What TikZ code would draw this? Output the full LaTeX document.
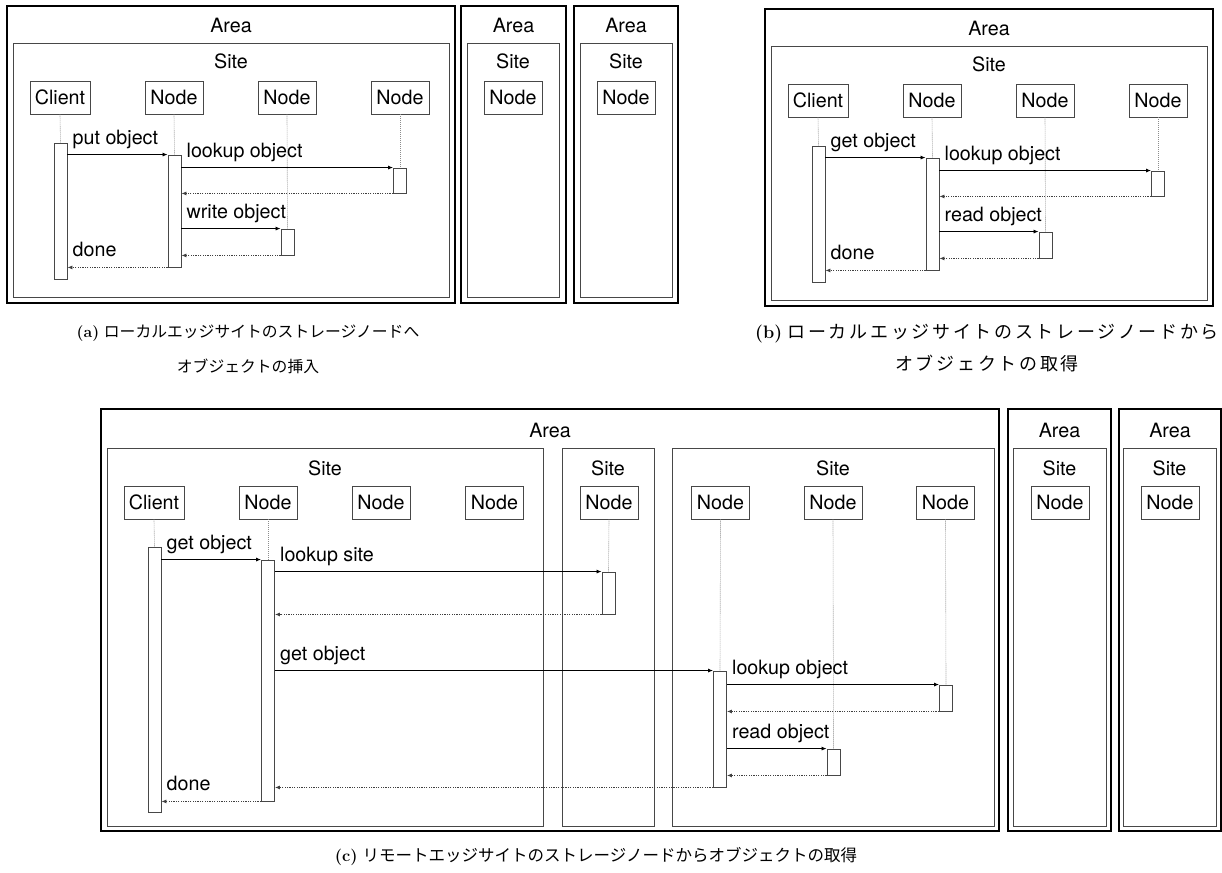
\documentclass[tikz,border=0pt]{standalone}
\usepackage{fontspec}
\usetikzlibrary{arrows.meta}
\newfontfamily\heros{TeX Gyre Heros}
\newfontfamily\cjkfont{Noto Sans CJK JP}
\newfontfamily\cjkwide[LetterSpace=15]{Noto Sans CJK JP}
\newcommand{\dfont}{\heros\fontsize{19.7pt}{22pt}\selectfont}
\tikzset{
  areabox/.style={draw=black, line width=1.3pt},
  sitebox/.style={draw=black!72, line width=0.9pt},
  actor/.style={draw=black!72, line width=0.9pt, minimum height=33pt, minimum width=58pt, inner sep=0pt, font=\dfont, text=black},
  bar/.style={draw=black!72, line width=0.9pt, fill=white, minimum width=13pt, inner sep=0pt},
  life/.style={draw=black!45, line width=0.6pt, dash pattern=on 1pt off 1pt},
  msg/.style={draw=black, line width=0.8pt, -{Latex[length=5pt,width=4pt]}},
  ret/.style={draw=black!75, line width=0.8pt, dash pattern=on 1.2pt off 1.2pt, -{Latex[length=5pt,width=4pt]}},
  lbl/.style={anchor=base west, inner sep=0pt, font=\dfont},
  ttl/.style={anchor=base, inner sep=0pt, font=\dfont},
  captext/.style={anchor=base, inner sep=0pt},
}
% local sequence diagram: #1 prefix, #2 dx, #3 dy, #4 first message, #5 storage op
\newcommand{\localdiag}[5]{%
\begin{scope}[shift={(#2,#3)}]
  \draw[areabox] (7,6) rectangle (455,303);
  \draw[sitebox] (13,43) rectangle (449,297);
  \node[ttl] (#1-areat) at (231,33) {Area};
  \node[ttl] (#1-sitet) at (231,69) {Site};
  \node[actor, minimum width=60pt] (#1-c) at (60,97.5) {Client};
  \node[actor] (#1-n1) at (174,97.5) {Node};
  \node[actor] (#1-n2) at (287,97.5) {Node};
  \node[actor] (#1-n3) at (400,97.5) {Node};
  \node[bar, minimum height=136pt] (#1-bc) at (60.5,211) {};
  \node[bar, minimum height=112pt] (#1-b1) at (174.5,211) {};
  \node[bar, minimum height=25pt] (#1-b3) at (400,180.5) {};
  \node[bar, minimum height=26pt] (#1-b2) at (287.5,242) {};
  \draw[life] (#1-c.south) -- (#1-bc.north);
  \draw[life] (#1-n1.south) -- (#1-b1.north);
  \draw[life] (#1-n2.south) -- (#1-b2.north);
  \draw[life] (#1-n3.south) -- (#1-b3.north);
  \draw[msg] (#1-bc.east |- #1-b1.north) -- (#1-b1.north west);
  \draw[msg] (#1-b1.east |- #1-b3.north) -- (#1-b3.north west);
  \draw[ret] (#1-b3.south west) -- (#1-b3.south west -| #1-b1.east);
  \draw[msg] (#1-b1.east |- #1-b2.north) -- (#1-b2.north west);
  \draw[ret] (#1-b2.south west) -- (#1-b2.south west -| #1-b1.east);
  \draw[ret] (#1-b1.south west) -- (#1-b1.south west -| #1-bc.east);
  \node[lbl] (#1-l1) at ([xshift=5pt,yshift=10pt]#1-bc.east |- #1-b1.north) {#4};
  \node[lbl] (#1-l2) at ([xshift=5pt,yshift=10pt]#1-b1.east |- #1-b3.north) {lookup object};
  \node[lbl] (#1-l3) at ([xshift=5pt,yshift=10pt]#1-b1.east |- #1-b2.north) {#5};
  \node[lbl] (#1-l4) at ([xshift=5pt,yshift=11pt]#1-b1.south west -| #1-bc.east) {done};
\end{scope}}
\begin{document}
\begin{tikzpicture}[x=1pt,y=-1pt]
\useasboundingbox (0,0) rectangle (1222,872);
% ---------- (a) ----------
\localdiag{a}{0}{0}{put object}{write object}
\draw[areabox] (461,6) rectangle (566,303);
\draw[sitebox] (467,43) rectangle (559,297);
\node[ttl] (a2-areat) at (513.5,33) {Area};
\node[ttl] (a2-sitet) at (513,69) {Site};
\node[actor] (a2-n) at (513,97.5) {Node};
\draw[areabox] (574,6) rectangle (678,303);
\draw[sitebox] (580,43) rectangle (672,297);
\node[ttl] (a3-areat) at (626,33) {Area};
\node[ttl] (a3-sitet) at (626,69) {Site};
\node[actor] (a3-n) at (626,97.5) {Node};
\node[captext] (capa1) at (248,337) {\fontsize{15.8pt}{18pt}\selectfont\textbf{(a)} \cjkfont ローカルエッジサイトのストレージノードへ};
\node[captext] (capa2) at (248,372) {\fontsize{15.8pt}{18pt}\selectfont\cjkfont オブジェクトの挿入};
% ---------- (b) ----------
\localdiag{b}{758}{3}{get object}{read object}
\node[captext] (capb1) at (987,338) {\fontsize{18pt}{21pt}\selectfont\textbf{(b)} \cjkwide ローカルエッジサイトのストレージノードから};
\node[captext] (capb2) at (987,370) {\fontsize{18pt}{21pt}\selectfont\cjkwide オブジェクトの取得};
% ---------- (c) ----------
\draw[areabox] (101,409) rectangle (999,831);
\draw[sitebox] (107,448) rectangle (543,826);
\draw[sitebox] (562,448) rectangle (654,826);
\draw[sitebox] (672,448) rectangle (994,826);
\node[ttl] (c-areat) at (550,437) {Area};
\node[ttl] (c-s1t) at (325,475) {Site};
\node[ttl] (c-s2t) at (608,475) {Site};
\node[ttl] (c-s3t) at (833,475) {Site};
\node[actor, minimum width=60pt] (c-c) at (154,502.5) {Client};
\node[actor] (c-n1) at (268,502.5) {Node};
\node[actor] (c-n2) at (381,502.5) {Node};
\node[actor] (c-n3) at (494.5,502.5) {Node};
\node[actor] (c-s2n) at (609,502.5) {Node};
\node[actor] (c-s3n1) at (720.5,502.5) {Node};
\node[actor] (c-s3n2) at (833,502.5) {Node};
\node[actor] (c-s3n3) at (945.5,502.5) {Node};
\draw[areabox] (1008,409) rectangle (1111,831);
\draw[sitebox] (1013,448) rectangle (1106,826);
\node[ttl] (c2-areat) at (1059.5,437) {Area};
\node[ttl] (c2-sitet) at (1059.5,475) {Site};
\node[actor] (c2-n) at (1060,502.5) {Node};
\draw[areabox] (1119,409) rectangle (1221,831);
\draw[sitebox] (1123,448) rectangle (1216,826);
\node[ttl] (c3-areat) at (1170,437) {Area};
\node[ttl] (c3-sitet) at (1169.5,475) {Site};
\node[actor] (c3-n) at (1170,502.5) {Node};
% bars
\node[bar, minimum height=265pt] (c-bc) at (154.5,679.5) {};
\node[bar, minimum height=241pt] (c-b1) at (268,680.5) {};
\node[bar, minimum height=42pt] (c-bs2) at (608.5,593) {};
\node[bar, minimum height=116pt] (c-bs31) at (720,729) {};
\node[bar, minimum height=26pt] (c-bs33) at (946,698) {};
\node[bar, minimum height=26pt] (c-bs32) at (833.5,762) {};
% lifelines
\draw[life] (c-c.south) -- (c-bc.north);
\draw[life] (c-n1.south) -- (c-b1.north);
\draw[life] (c-s2n.south) -- (c-bs2.north);
\draw[life] (c-s3n1.south) -- (c-bs31.north);
\draw[life] (c-s3n2.south) -- (c-bs32.north);
\draw[life] (c-s3n3.south) -- (c-bs33.north);
% messages
\draw[msg] (c-bc.east |- c-b1.north) -- (c-b1.north west);
\draw[msg] (c-b1.east |- c-bs2.north) -- (c-bs2.north west);
\draw[ret] (c-bs2.south west) -- (c-bs2.south west -| c-b1.east);
\draw[msg] (c-b1.east |- c-bs31.north) -- (c-bs31.north west);
\draw[msg] (c-bs31.east |- c-bs33.north) -- (c-bs33.north west);
\draw[ret] (c-bs33.south west) -- (c-bs33.south west -| c-bs31.east);
\draw[msg] (c-bs31.east |- c-bs32.north) -- (c-bs32.north west);
\draw[ret] (c-bs32.south west) -- (c-bs32.south west -| c-bs31.east);
\draw[ret] (c-bs31.south west) -- (c-bs31.south west -| c-b1.east);
\draw[ret] (c-b1.south west) -- (c-b1.south west -| c-bc.east);
\node[lbl] (c-l1) at ([xshift=5pt,yshift=10pt]c-bc.east |- c-b1.north) {get object};
\node[lbl] (c-l2) at ([xshift=5pt,yshift=10pt]c-b1.east |- c-bs2.north) {lookup site};
\node[lbl] (c-l3) at ([xshift=5pt,yshift=10pt]c-b1.east |- c-bs31.north) {get object};
\node[lbl] (c-l4) at ([xshift=5pt,yshift=10pt]c-bs31.east |- c-bs33.north) {lookup object};
\node[lbl] (c-l5) at ([xshift=5pt,yshift=10pt]c-bs31.east |- c-bs32.north) {read object};
\node[lbl] (c-l6) at ([xshift=5pt,yshift=11pt]c-b1.south west -| c-bc.east) {done};
\node[captext] (capc) at (596,861) {\fontsize{16.5pt}{19pt}\selectfont\textbf{(c)} \cjkfont リモートエッジサイトのストレージノードからオブジェクトの取得};
\end{tikzpicture}
\end{document}
